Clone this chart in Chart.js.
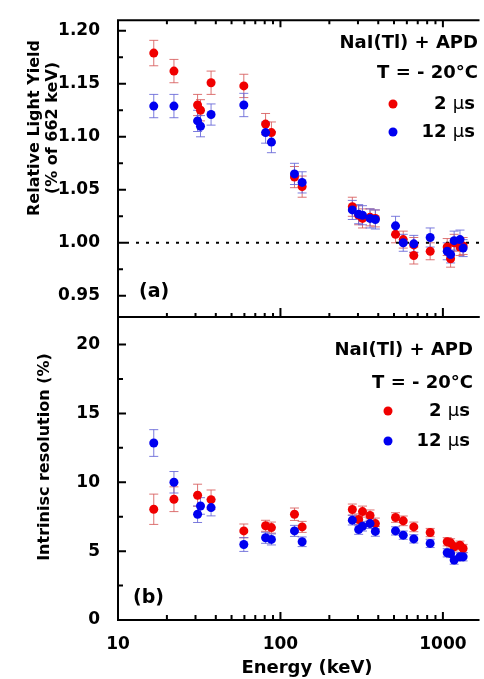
<!DOCTYPE html>
<html>
<head>
<meta charset="utf-8">
<script src="https://cdn.jsdelivr.net/npm/chart.js@4.4.0/dist/chart.umd.min.js"></script>
<style>
  body { margin: 0; background: #fff; }
  #wrap { position: relative; width: 484px; height: 679px; }
  canvas { position: absolute; left: 0; top: 0; }
</style>
</head>
<body>
<div id="wrap">
  <canvas id="chartTop" width="484" height="679"></canvas>
  <canvas id="chartBottom" width="484" height="679"></canvas>
</div>
<script>
// Relative light yield (panel a)
var lyEnergy2us = [16.6, 22.1, 30.9, 32.2, 37.4, 59.5, 81, 88, 122, 136, 277, 303, 320, 356, 384, 511, 570, 662, 662, 835, 1063, 1115, 1173, 1274, 1332];
var ly2us = [1.179, 1.162, 1.130, 1.125, 1.151, 1.148, 1.112, 1.104, 1.062, 1.053, 1.034, 1.026, 1.023, 1.024, 1.023, 1.008, 1.003, 0.998, 0.988, 0.992, 0.996, 0.985, 1.000, 0.996, 0.997];
var ly2usErr = [0.012, 0.011, 0.010, 0.010, 0.011, 0.011, 0.010, 0.010, 0.010, 0.010, 0.009, 0.009, 0.009, 0.008, 0.008, 0.008, 0.008, 0.007, 0.008, 0.008, 0.008, 0.008, 0.008, 0.008, 0.008];

var lyEnergy12us = [16.6, 22.1, 30.9, 32.2, 37.4, 59.5, 81, 88, 122, 136, 277, 303, 320, 356, 384, 511, 570, 662, 835, 1063, 1115, 1173, 1274, 1332];
var ly12us = [1.129, 1.129, 1.115, 1.110, 1.121, 1.130, 1.104, 1.095, 1.065, 1.057, 1.031, 1.027, 1.026, 1.023, 1.022, 1.016, 1.000, 0.999, 1.005, 0.992, 0.989, 1.002, 1.003, 0.995];
var ly12usErr = [0.011, 0.011, 0.010, 0.010, 0.010, 0.011, 0.010, 0.010, 0.010, 0.010, 0.009, 0.009, 0.009, 0.009, 0.009, 0.009, 0.008, 0.008, 0.009, 0.008, 0.008, 0.009, 0.009, 0.008];

// Intrinsic resolution (panel b)
var resEnergy2us = [16.6, 22.1, 30.9, 37.4, 59.5, 81, 88, 122, 136, 277, 303, 320, 356, 384, 511, 570, 662, 835, 1063, 1115, 1173, 1274, 1332];
var res2us = [8.04, 8.77, 9.06, 8.74, 6.47, 6.84, 6.71, 7.68, 6.76, 8.02, 7.30, 7.87, 7.59, 7.00, 7.44, 7.20, 6.76, 6.35, 5.68, 5.60, 5.31, 5.43, 5.19];
var res2usErr = [1.1, 0.9, 0.8, 0.7, 0.5, 0.4, 0.4, 0.45, 0.4, 0.4, 0.4, 0.4, 0.4, 0.4, 0.35, 0.35, 0.35, 0.3, 0.3, 0.3, 0.3, 0.3, 0.3];

var resEnergy12us = [16.6, 22.1, 30.9, 32.2, 37.4, 59.5, 81, 88, 122, 136, 277, 303, 320, 356, 384, 511, 570, 662, 835, 1063, 1115, 1173, 1274, 1332];
var res12us = [12.85, 10.0, 7.68, 8.28, 8.16, 5.48, 5.97, 5.85, 6.47, 5.68, 7.25, 6.57, 6.81, 7.00, 6.43, 6.47, 6.16, 5.89, 5.56, 4.88, 4.83, 4.35, 4.59, 4.59];
var res12usErr = [0.97, 0.78, 0.6, 0.6, 0.6, 0.5, 0.4, 0.4, 0.4, 0.35, 0.35, 0.35, 0.35, 0.35, 0.35, 0.3, 0.3, 0.3, 0.3, 0.3, 0.3, 0.3, 0.3, 0.3];

// tick labels
var energyTicks = [10, 100, 1000];
var lyTicks = [0.95, 1.00, 1.05, 1.10, 1.15, 1.20];
var resTicks = [0, 5, 10, 15, 20];

var RED = 'rgb(240,0,0)';
var BLUE = 'rgb(0,0,240)';
var FONT = '"DejaVu Sans", sans-serif';

Chart.defaults.font.family = FONT;
Chart.defaults.color = '#000';

function toPoints(xs, ys) {
  return xs.map(function (x, i) { return { x: x, y: ys[i] }; });
}

function logMinor(min, max) {
  var out = [];
  for (var d = 1; d < max; d *= 10) {
    for (var k = 2; k <= 9; k++) {
      var v = k * d;
      if (v > min && v < max) out.push(v);
    }
  }
  return out;
}

// error bars under the points
var errorBars = {
  id: 'errorBars',
  beforeDatasetsDraw: function (chart) {
    var ctx = chart.ctx;
    var yScale = chart.scales.y;
    ctx.save();
    ctx.lineWidth = 1;
    chart.data.datasets.forEach(function (ds, i) {
      var meta = chart.getDatasetMeta(i);
      ctx.strokeStyle = ds.errorColor;
      ctx.beginPath();
      meta.data.forEach(function (pt, j) {
        var v = ds.data[j].y, e = ds.errors[j];
        var y1 = yScale.getPixelForValue(v + e);
        var y2 = yScale.getPixelForValue(v - e);
        ctx.moveTo(pt.x, y1); ctx.lineTo(pt.x, y2);
        ctx.moveTo(pt.x - 4.5, y1); ctx.lineTo(pt.x + 4.5, y1);
        ctx.moveTo(pt.x - 4.5, y2); ctx.lineTo(pt.x + 4.5, y2);
      });
      ctx.stroke();
    });
    ctx.restore();
  }
};

// dotted reference line
var refLine = {
  id: 'refLine',
  beforeDatasetsDraw: function (chart, args, o) {
    if (o.value === undefined) return;
    var ctx = chart.ctx, a = chart.chartArea;
    var py = chart.scales.y.getPixelForValue(o.value);
    ctx.save();
    ctx.strokeStyle = '#000';
    ctx.lineWidth = 2;
    ctx.setLineDash([3, 7]);
    ctx.beginPath();
    ctx.moveTo(a.left + 8, py); ctx.lineTo(a.right, py);
    ctx.stroke();
    ctx.restore();
  }
};

// frame and inward ticks
var axisFrame = {
  id: 'axisFrame',
  afterDraw: function (chart, args, o) {
    var ctx = chart.ctx, a = chart.chartArea;
    var xs = chart.scales.x, ys = chart.scales.y;
    ctx.save();
    ctx.strokeStyle = '#000';
    ctx.lineWidth = 2;
    ctx.beginPath();
    ctx.moveTo(a.left, a.top); ctx.lineTo(a.right, a.top);
    ctx.moveTo(a.left, a.top - 1); ctx.lineTo(a.left, a.bottom + 1);
    ctx.moveTo(a.left, a.bottom); ctx.lineTo(a.right, a.bottom);

    function xTick(v, len) {
      if (v <= xs.min || v >= xs.max) return;
      var px = xs.getPixelForValue(v);
      if (o.topTicks) { ctx.moveTo(px, a.top); ctx.lineTo(px, a.top + o.topTicks[len]); }
      if (o.bottomTicks) { ctx.moveTo(px, a.bottom); ctx.lineTo(px, a.bottom - o.bottomTicks[len]); }
    }
    energyTicks.forEach(function (v) { xTick(v, 0); });
    logMinor(xs.min, xs.max).forEach(function (v) { if (energyTicks.indexOf(v) < 0) xTick(v, 1); });

    function yTick(v, len) {
      if (v <= ys.min || v >= ys.max) return;
      var py = ys.getPixelForValue(v);
      ctx.moveTo(a.left, py); ctx.lineTo(a.left + len, py);
    }
    var major = o.yMajor;
    major.forEach(function (v) { yTick(v, 8); });
    for (var i = 0; i < major.length - 1; i++) yTick((major[i] + major[i + 1]) / 2, 5);
    ctx.stroke();
    ctx.restore();
  }
};

// header text, legend, panel label and axis titles
var panelText = {
  id: 'panelText',
  afterDraw: function (chart, args, o) {
    var ctx = chart.ctx;
    ctx.save();
    ctx.fillStyle = '#000';
    ctx.textBaseline = 'middle';
    ctx.textAlign = 'right';
    ctx.font = 'bold 18px ' + FONT;
    ctx.fillText('NaI(Tl) + APD', o.right, o.rows[0]);
    ctx.fillText('T = - 20\u00B0C', o.right, o.rows[1]);

    chart.data.datasets.forEach(function (ds, i) {
      var y = o.rows[2 + i];
      var parts = ds.label.split(' ');
      var segs = [
        { t: parts[0] + ' ', f: 'bold 18px ' + FONT },
        { t: '\u03BC', f: '18px ' + FONT },
        { t: 's', f: 'bold 18px ' + FONT }
      ];
      var total = 0;
      segs.forEach(function (s) { ctx.font = s.f; s.w = ctx.measureText(s.t).width; total += s.w; });
      var x = o.right - 3 - total;
      ctx.textAlign = 'left';
      segs.forEach(function (s) { ctx.font = s.f; ctx.fillText(s.t, x, y); x += s.w; });
      ctx.fillStyle = ds.backgroundColor;
      ctx.beginPath();
      ctx.arc(o.dotX, y, 4.5, 0, Math.PI * 2);
      ctx.fill();
      ctx.fillStyle = '#000';
    });

    ctx.textAlign = 'left';
    ctx.font = 'bold 19px ' + FONT;
    ctx.fillText(o.panel, o.panelX, o.panelY);

    ctx.textAlign = 'center';
    ctx.font = 'bold 16px ' + FONT;
    o.yTitle.forEach(function (line, i) {
      ctx.save();
      ctx.translate(o.yTitleX[i], o.yTitleY);
      ctx.rotate(-Math.PI / 2);
      ctx.fillText(line, 0, 0);
      ctx.restore();
    });
    if (o.xTitle) {
      ctx.font = 'bold 18px ' + FONT;
      ctx.fillText(o.xTitle, o.xTitleX, o.xTitleY);
    }
    ctx.restore();
  }
};

function makeDatasets(e2, v2, err2, e12, v12, err12) {
  return [{
    label: '2 \u03BCs',
    data: toPoints(e2, v2),
    errors: err2,
    errorColor: 'rgba(215,90,90,0.85)',
    backgroundColor: RED,
    borderWidth: 0,
    pointRadius: 4.5,
    order: 2
  }, {
    label: '12 \u03BCs',
    data: toPoints(e12, v12),
    errors: err12,
    errorColor: 'rgba(100,100,215,0.85)',
    backgroundColor: BLUE,
    borderWidth: 0,
    pointRadius: 4.5,
    order: 1
  }];
}

function xAxis(showLabels, height) {
  return {
    type: 'logarithmic',
    min: 10,
    max: 1680,
    grid: { display: false },
    border: { display: false },
    afterBuildTicks: function (s) { s.ticks = energyTicks.map(function (v) { return { value: v }; }); },
    ticks: {
      display: showLabels,
      padding: 6,
      maxRotation: 0,
      autoSkip: false,
      font: { size: 17, weight: 'bold' },
      callback: function (v) { return String(v); }
    },
    afterFit: function (s) { s.height = height; }
  };
}

function yAxis(min, max, tickList, digits) {
  return {
    min: min,
    max: max,
    grid: { display: false },
    border: { display: false },
    afterBuildTicks: function (s) { s.ticks = tickList.map(function (v) { return { value: v }; }); },
    ticks: {
      padding: 10,
      font: { size: 17, weight: 'bold' },
      callback: function (v) { return v.toFixed(digits); }
    },
    afterFit: function (s) { s.width = 118; }
  };
}

var common = {
  responsive: false,
  animation: false,
  devicePixelRatio: 1,
  events: []
};

new Chart(document.getElementById('chartTop').getContext('2d'), {
  type: 'scatter',
  data: { datasets: makeDatasets(lyEnergy2us, ly2us, ly2usErr, lyEnergy12us, ly12us, ly12usErr) },
  options: Object.assign({}, common, {
    layout: { padding: { top: 14, right: 0, bottom: 362, left: 0 } },
    scales: { x: xAxis(false, 0), y: yAxis(0.93, 1.21, lyTicks, 2) },
    plugins: {
      legend: { display: false },
      tooltip: { enabled: false },
      refLine: { value: 1.0 },
      axisFrame: { topTicks: [7, 4], bottomTicks: [9, 4], yMajor: lyTicks },
      panelText: {
        right: 478, rows: [43, 73, 104, 132], dotX: 393,
        panel: '(a)', panelX: 139, panelY: 292,
        yTitle: ['Relative Light Yield', '(% of 662 keV)'], yTitleX: [35, 53], yTitleY: 128
      }
    }
  }),
  plugins: [errorBars, refLine, axisFrame, panelText]
});

new Chart(document.getElementById('chartBottom').getContext('2d'), {
  type: 'scatter',
  data: { datasets: makeDatasets(resEnergy2us, res2us, res2usErr, resEnergy12us, res12us, res12usErr) },
  options: Object.assign({}, common, {
    layout: { padding: { top: 317, right: 0, bottom: 0, left: 0 } },
    scales: { x: xAxis(true, 59), y: yAxis(0, 22, resTicks, 0) },
    plugins: {
      legend: { display: false },
      tooltip: { enabled: false },
      refLine: {},
      axisFrame: { topTicks: null, bottomTicks: [8, 5], yMajor: resTicks },
      panelText: {
        right: 473, rows: [350, 383, 411, 441], dotX: 388,
        panel: '(b)', panelX: 133, panelY: 598,
        yTitle: ['Intrinisc resolution (%)'], yTitleX: [45], yTitleY: 457,
        xTitle: 'Energy (keV)', xTitleX: 307, xTitleY: 668
      }
    }
  }),
  plugins: [errorBars, refLine, axisFrame, panelText]
});
</script>
</body>
</html>
